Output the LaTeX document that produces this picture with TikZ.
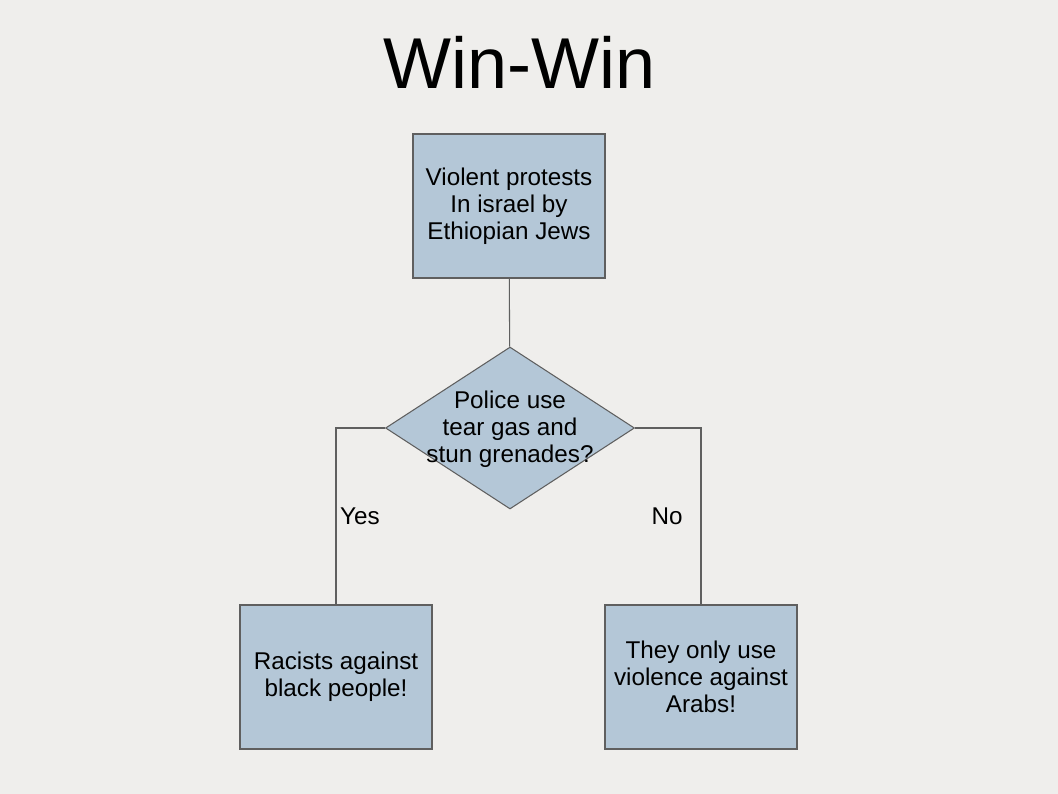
\documentclass[tikz,border=0pt]{standalone}
\usepackage{fontspec}
\setmainfont{Liberation Sans}
\usepackage{xcolor}
\usetikzlibrary{shapes.geometric, positioning, calc}

\definecolor{pageGray}{RGB}{239,238,236}
\definecolor{boxBlue}{RGB}{180,199,215}
\definecolor{edgeGray}{RGB}{95,95,95}

\begin{document}
\begin{tikzpicture}[
		x=0.02cm, y=-0.02cm,
		font=\fontsize{13.8}{15.3}\selectfont,
		baseBox/.style={rectangle, draw=edgeGray, line width=0.6pt, fill=boxBlue, align=center, minimum width=3.84cm, minimum height=2.88cm, inner sep=0pt},
		stepBox/.style={baseBox},
		queryBox/.style={diamond, draw=edgeGray, line width=0.6pt, fill=boxBlue, minimum width=4.98cm, minimum height=3.24cm, inner sep=0pt},
		link/.style={draw=edgeGray, line width=0.6pt}
		]

		% Fondo
		\fill[pageGray] (0,0) rectangle (1058,794);
		\useasboundingbox (0,0) rectangle (1058,794);

		% Nodos
		\node[font=\fontsize{41}{46}\selectfont] (title) at (520,62) {Win-Win};
		\node[stepBox] (protests) at (509,206) {Violent protests\\In israel by\\Ethiopian Jews};
		\node[queryBox] (police) at (510,428) {};
		\node[align=center] (policeText) at ($(police)+(0,1)$) {Police use\\tear gas and\\stun grenades?};
		\node[stepBox] (racists) at (336,677) {Racists against\\black people!};
		\node[stepBox] (arabs) at (701,677) {They only use\\violence against\\Arabs!};

		% Flechas
		\draw[link] (protests) -- (police);
		\draw[link] (police.west) -| (racists.north);
		\draw[link] (police.east) -| (arabs.north);

		% Etiquetas
		\node (yes) at (360,516) {Yes};
		\node (no) at (667,516) {No};

	\end{tikzpicture}
\end{document}
